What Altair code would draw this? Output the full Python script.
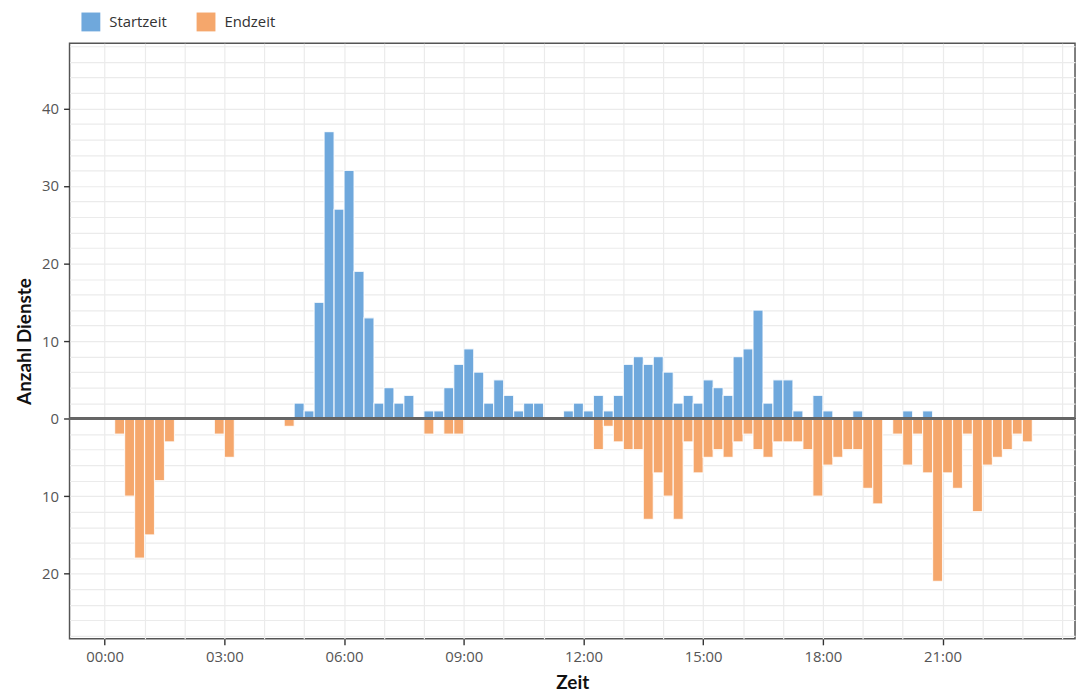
import altair as alt
import pandas as pd

# Quarter-hour bins: index i covers [i*15 min, (i+1)*15 min)
start_counts = [
    0, 0, 0, 0, 0, 0, 0, 0, 0, 0, 0, 0, 0, 0, 0, 0, 0, 0, 0, 2,   # 00:00-04:45
    1, 15, 37, 27, 32, 19, 13, 2, 4, 2, 3, 0,                      # 05:00-07:45
    1, 1, 4, 7, 9, 6, 2, 5, 3, 1, 2, 2,                            # 08:00-10:45
    0, 0, 1, 2, 1, 3, 1, 3, 7, 8, 7, 8,                            # 11:00-13:45
    6, 2, 3, 2, 5, 4, 3, 8, 9, 14, 2, 5,                           # 14:00-16:45
    5, 1, 0, 3, 1, 0, 0, 1, 0, 0, 0, 0,                            # 17:00-19:45
    1, 0, 1, 0, 0, 0, 0, 0, 0, 0, 0, 0, 0, 0, 0, 0,                # 20:00-23:45
]
end_counts = [
    0, 2, 10, 18, 15, 8, 3, 0, 0, 0, 0, 2, 5, 0, 0, 0, 0, 0, 1, 0,  # 00:00-04:45
    0, 0, 0, 0, 0, 0, 0, 0, 0, 0, 0, 0,                             # 05:00-07:45
    2, 0, 2, 2, 0, 0, 0, 0, 0, 0, 0, 0,                             # 08:00-10:45
    0, 0, 0, 0, 0, 4, 1, 3, 4, 4, 13, 7,                            # 11:00-13:45
    10, 13, 3, 7, 5, 4, 5, 3, 2, 4, 5, 3,                           # 14:00-16:45
    3, 3, 4, 10, 6, 5, 4, 4, 9, 11, 0, 2,                           # 17:00-19:45
    6, 2, 7, 21, 7, 9, 2, 12, 6, 5, 4, 2, 3, 0, 0, 0,               # 20:00-23:45
]
series_names = ["Startzeit", "Endzeit"]
series_colors = ["#6FA8DC", "#F5A76C"]

rows = []
for i, (s, e) in enumerate(zip(start_counts, end_counts)):
    t0 = i * 0.25
    if s:
        rows.append({"serie": "Startzeit", "t0": t0, "t1": t0 + 0.25, "n": s})
    if e:
        rows.append({"serie": "Endzeit", "t0": t0, "t1": t0 + 0.25, "n": -e})
df = pd.DataFrame(rows)

FONT = "Open Sans"
TFONT = "Lato"

x_scale = alt.Scale(domain=[-0.88, 24.32], nice=False, zero=False)
y_scale = alt.Scale(domain=[-28.4, 48.4], nice=False, zero=False)

x_axis = alt.Axis(
    values=list(range(0, 25)),
    labelExpr="indexof([0,3,6,9,12,15,18,21], datum.value) >= 0 ? (datum.value < 10 ? '0' : '') + datum.value + ':00' : ''",
    labelOverlap=False,
    tickOpacity={"condition": {"test": "indexof([0,3,6,9,12,15,18,21], datum.value) >= 0", "value": 1}, "value": 0},
    grid=True, gridColor="#ebebeb", gridWidth=1.2,
    domain=False, ticks=True, tickColor="#333333", tickSize=6, tickWidth=1.4,
    labelFont=FONT, labelFontSize=15, labelColor="#555555", labelPadding=5,
    title="Zeit", titleFont=TFONT, titleFontSize=19, titleFontWeight="bold",
    titleColor="#111111", titleY=44, titleBaseline="middle",
)
y_axis = alt.Axis(
    values=list(range(-28, 49, 2)),
    labelExpr="datum.value % 10 === 0 ? format(abs(datum.value), 'd') : ''",
    labelOverlap=False,
    tickOpacity={"condition": {"test": "datum.value % 10 === 0", "value": 1}, "value": 0},
    grid=True, gridColor="#ebebeb", gridWidth=1.2,
    domain=False, ticks=True, tickColor="#333333", tickSize=6, tickWidth=1.4,
    labelFont=FONT, labelFontSize=15, labelColor="#555555", labelPadding=5,
    title="Anzahl Dienste", titleFont=TFONT, titleFontSize=19, titleFontWeight="bold",
    titleColor="#111111", titleX=-45, titleBaseline="middle", titleAngle=-90,
)

bars = alt.Chart(df).mark_bar(stroke="white", strokeWidth=1.2, strokeOpacity=0.8).encode(
    x=alt.X("t0:Q", scale=x_scale, axis=x_axis),
    x2="t1:Q",
    y=alt.Y("n:Q", scale=y_scale, axis=y_axis),
    y2=alt.datum(0),
    color=alt.Color(
        "serie:N",
        scale=alt.Scale(domain=series_names, range=series_colors),
        sort=series_names,
        legend=alt.Legend(
            title=None, orient="none", direction="horizontal",
            legendX=12, legendY=-31, padding=0,
            symbolType="square", symbolSize=361, symbolStrokeWidth=0,
            symbolOpacity=1, labelFont=FONT, labelFontSize=15,
            labelColor="#333333", labelOffset=9, columnPadding=30,
        ),
    ),
)

zero = alt.Chart(df).mark_rule(color="#666666", strokeWidth=1.6).encode(
    y=alt.Y(datum=0, scale=y_scale, axis=y_axis)
)

chart = alt.layer(bars, zero).properties(
    width=1013, height=600,
    autosize=alt.AutoSizeParams(type="none"),
    padding={"left": 62, "top": 33, "right": 2, "bottom": 52},
).configure(
    background="white",
    view=alt.ViewConfig(stroke="#555555", strokeWidth=1.5),
)

chart.save("out.html", embed_options={"renderer": "svg", "actions": False})
